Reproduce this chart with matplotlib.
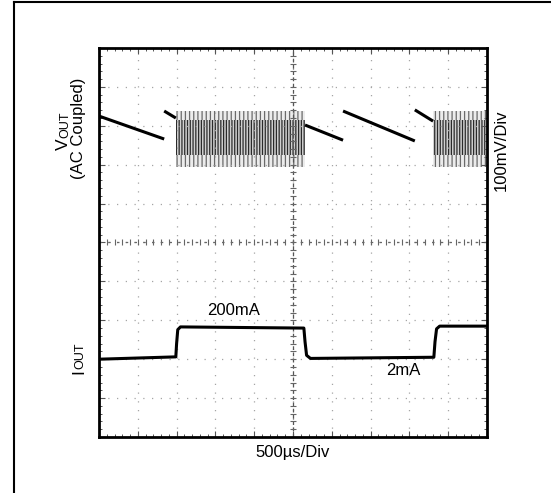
import matplotlib.pyplot as plt
import numpy as np
from matplotlib.lines import Line2D
from matplotlib.ticker import MultipleLocator

plt.rcParams['font.family'] = ['Liberation Sans', 'DejaVu Sans']
plt.rcParams['hatch.linewidth'] = 0.9

# scope screen: 10 x 10 divisions
# VOUT ramps between bursts (start/end in divisions)
ramp_x0 = [0.00, 1.68, 5.31, 6.29, 8.14]
ramp_x1 = [1.68, 1.98, 6.29, 8.14, 8.61]
ramp_y0 = [8.25, 8.38, 8.02, 8.38, 8.41]
ramp_y1 = [7.66, 8.20, 7.63, 7.61, 8.12]

# switching bursts on VOUT
burst_x0 = [1.98, 8.61]
burst_x1 = [5.31, 10.0]
burst_lo, burst_hi = 6.94, 8.38
core_lo, core_hi = 7.25, 8.15

# IOUT load step trace
iout_x = [0.00, 1.98, 2.00, 2.03, 2.10, 5.28, 5.31, 5.35, 5.45,
          8.63, 8.66, 8.70, 8.78, 10.0]
iout_y = [2.00, 2.06, 2.40, 2.76, 2.83, 2.80, 2.45, 2.10, 2.02,
          2.05, 2.45, 2.78, 2.85, 2.85]

fig = plt.figure(figsize=(5.51, 4.93), dpi=100)
W, H = 551, 493
ax = fig.add_axes([99 / W, 1 - 437 / H, 388 / W, 389 / H])
ax.set_xlim(0, 10)
ax.set_ylim(0, 10)

# graticule
ax.xaxis.set_major_locator(MultipleLocator(1))
ax.yaxis.set_major_locator(MultipleLocator(1))
ax.xaxis.set_minor_locator(MultipleLocator(0.2))
ax.yaxis.set_minor_locator(MultipleLocator(0.2))
ax.tick_params(which='both', direction='in', top=True, right=True,
               labelbottom=False, labelleft=False, color='#555555')
ax.tick_params(which='major', length=4, width=0.8)
ax.tick_params(which='minor', length=2.5, width=0.7)
ax.grid(True, which='major', color='#a5a5a5', linestyle=(0, (1, 6)), lw=0.9)
for s in ax.spines.values():
    s.set_linewidth(2)

ax.axvline(5, color='#555555', lw=0.9, linestyle=(0, (3, 2)))
ax.axhline(5, color='#666666', lw=0.9, linestyle=(0, (2, 5)))
marks = np.arange(0.2, 10, 0.2)
ax.plot(marks, np.full_like(marks, 5), ls='none', marker='|', ms=4, mew=0.8, color='#666666')
ax.plot(np.full_like(marks, 5), marks, ls='none', marker='_', ms=4, mew=0.8, color='#666666')

# VOUT
for x0, x1, y0, y1 in zip(ramp_x0, ramp_x1, ramp_y0, ramp_y1):
    ax.plot([x0, x1], [y0, y1], color='black', lw=2.2, solid_capstyle='butt')
for x0, x1 in zip(burst_x0, burst_x1):
    ax.fill_between([x0, x1], burst_lo, burst_hi, facecolor='#ececec',
                    edgecolor='#6a6a6a', hatch='||||', lw=0)
    ax.fill_between([x0, x1], core_lo, core_hi, facecolor='#d0d0d0',
                    edgecolor='#2a2a2a', hatch='||||||', lw=0)

# IOUT
ax.plot(iout_x, iout_y, color='black', lw=2.2)

ax.text(3.48, 3.24, '200mA', ha='center', va='center', fontsize=12)
ax.text(7.84, 1.72, '2mA', ha='center', va='center', fontsize=12)

def fx(px):
    return px / W

def fy(py):
    return 1 - py / H

fig.text(fx(293), fy(453), '500µs/Div', ha='center', va='center', fontsize=12)
fig.text(fx(501), fy(150), '100mV/Div', ha='center', va='center', fontsize=12, rotation=90)
fig.text(fx(79), fy(128), '(AC Coupled)', ha='center', va='center', fontsize=12, rotation=90)

# VOUT / IOUT labels with small-caps style subscript
kw = dict(rotation=90, rotation_mode='anchor', ha='left', va='baseline')
fig.text(fx(68), fy(150), 'V', fontsize=12.5, **kw)
fig.text(fx(68), fy(138.4), 'OUT', fontsize=9, **kw)
fig.text(fx(83), fy(373.6), 'I', fontsize=12.5, **kw)
fig.text(fx(83), fy(368.8), 'OUT', fontsize=9, **kw)

# outer frame
fig.add_artist(Line2D([fx(14), fx(14)], [fy(2), 0], color='black', lw=1.5))
fig.add_artist(Line2D([fx(14), 1], [fy(2), fy(2)], color='black', lw=1.5))

fig.savefig('out.png', dpi=100)
